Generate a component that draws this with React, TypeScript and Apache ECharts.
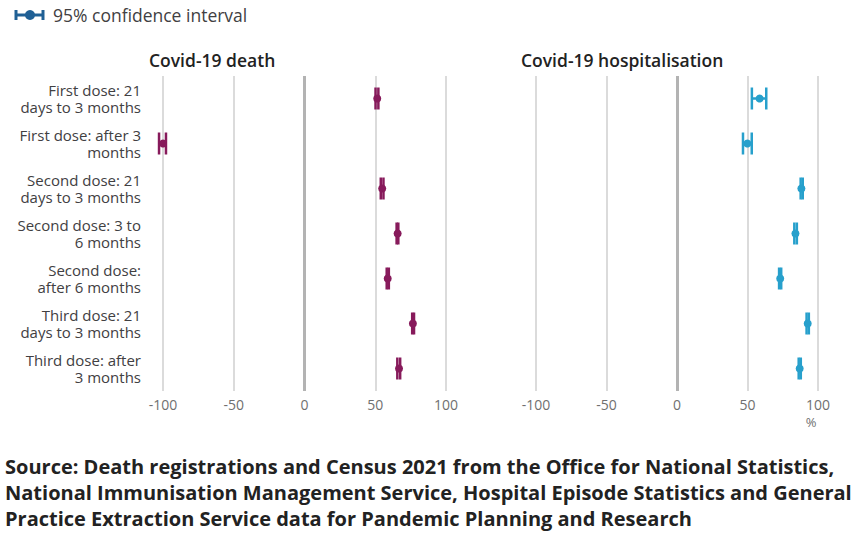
import React, { useEffect, useRef } from "react";
import * as echarts from "echarts";

const categories = [
  "First dose: 21\ndays to 3 months",
  "First dose: after 3\nmonths",
  "Second dose: 21\ndays to 3 months",
  "Second dose: 3 to\n6 months",
  "Second dose:\nafter 6 months",
  "Third dose: 21\ndays to 3 months",
  "Third dose: after\n3 months",
];

// Covid-19 death: estimate, lower, upper
const deathEst = [51.4, -100, 54.9, 65.8, 58.8, 76.6, 66.8];
const deathLow = [50.2, -102.8, 53.9, 65.1, 58.1, 76.1, 65.6];
const deathHigh = [52.2, -97.9, 55.8, 66.3, 59.6, 77.4, 67.6];

// Covid-19 hospitalisation: estimate, lower, upper
const hospEst = [58.6, 49.9, 88.2, 84.0, 73.2, 92.7, 87.0];
const hospLow = [53.1, 46.8, 87.7, 83.2, 72.4, 91.9, 86.3];
const hospHigh = [63.3, 53.0, 89.2, 85.0, 73.9, 93.5, 87.8];

const xTicks = [-100, -50, 0, 50, 100];

const panelTitles = ["Covid-19 death", "Covid-19 hospitalisation"];
const legendLabel = "95% confidence interval";
const unitLabel = "%";
const sourceText =
  "Source: Death registrations and Census 2021 from the Office for National Statistics,\nNational Immunisation Management Service, Hospital Episode Statistics and General\nPractice Extraction Service data for Pandemic Planning and Research";

const FONT = "'Open Sans', 'Noto Sans', sans-serif";
const PURPLE = "#871a5b";
const BLUE = "#27a0cc";
const DARKBLUE = "#206095";

function buildData(est: number[], low: number[], high: number[]) {
  return est.map((v, i) => [v, i, low[i], high[i]]);
}

function makeRender(color: string) {
  return (params: any, api: any) => {
    const cat = api.value(1);
    const pe = api.coord([api.value(0), cat]);
    const pl = api.coord([api.value(2), cat]);
    const ph = api.coord([api.value(3), cat]);
    const y = pe[1];
    const h = 11;
    const ls = { stroke: color, lineWidth: 2.5 };
    return {
      type: "group",
      children: [
        { type: "line", shape: { x1: pl[0], y1: y, x2: ph[0], y2: y }, style: ls },
        { type: "line", shape: { x1: pl[0], y1: y - h, x2: pl[0], y2: y + h }, style: ls },
        { type: "line", shape: { x1: ph[0], y1: y - h, x2: ph[0], y2: y + h }, style: ls },
        { type: "circle", shape: { cx: pe[0], cy: y, r: 4 }, style: { fill: color } },
      ],
    };
  };
}

export default function App() {
  const ref = useRef<HTMLDivElement>(null);
  useEffect(() => {
    if (!ref.current) return;
    const chart = echarts.init(ref.current, null, { renderer: "svg" });
    const gridTop = 76;
    const gridBottom = 148;
    const xAxisBase = (gridIndex: number) => ({
      type: "value",
      gridIndex,
      min: xTicks[0],
      max: xTicks[xTicks.length - 1],
      interval: 50,
      axisLine: { show: false },
      axisTick: { show: false },
      axisLabel: { color: "#707070", fontSize: 14, fontFamily: FONT, margin: 6 },
      splitLine: { show: true, lineStyle: { color: "#cfcfcf", width: 1.5 } },
    });
    const yAxisBase = (gridIndex: number, showLabels: boolean) => ({
      type: "category",
      gridIndex,
      data: categories,
      inverse: true,
      axisLine: { show: false },
      axisTick: { show: false },
      splitLine: { show: false },
      axisLabel: {
        show: showLabels,
        color: "#414042",
        fontSize: 15,
        lineHeight: 17,
        fontFamily: FONT,
        margin: 22,
        align: "right",
      },
    });
    const zeroLine = {
      silent: true,
      symbol: ["none", "none"],
      label: { show: false },
      lineStyle: { color: "#b3b3b3", width: 3, type: "solid" },
      data: [{ xAxis: 0 }],
    };
    chart.setOption({
      animation: false,
      grid: [
        { left: 163, width: 283, top: gridTop, bottom: gridBottom },
        { left: 536, width: 282, top: gridTop, bottom: gridBottom },
      ],
      xAxis: [xAxisBase(0), xAxisBase(1)],
      yAxis: [yAxisBase(0, true), yAxisBase(1, false)],
      series: [
        {
          type: "custom",
          name: panelTitles[0],
          xAxisIndex: 0,
          yAxisIndex: 0,
          clip: false,
          renderItem: makeRender(PURPLE),
          encode: { x: [0, 2, 3], y: 1 },
          data: buildData(deathEst, deathLow, deathHigh),
          markLine: zeroLine,
          z: 3,
        },
        {
          type: "custom",
          name: panelTitles[1],
          xAxisIndex: 1,
          yAxisIndex: 1,
          clip: false,
          renderItem: makeRender(BLUE),
          encode: { x: [0, 2, 3], y: 1 },
          data: buildData(hospEst, hospLow, hospHigh),
          markLine: zeroLine,
          z: 3,
        },
      ],
      graphic: [
        // legend icon
        { type: "line", shape: { x1: 16, y1: 15, x2: 43, y2: 15 }, style: { stroke: DARKBLUE, lineWidth: 3 } },
        { type: "line", shape: { x1: 16, y1: 10, x2: 16, y2: 20 }, style: { stroke: DARKBLUE, lineWidth: 3 } },
        { type: "line", shape: { x1: 43, y1: 10, x2: 43, y2: 20 }, style: { stroke: DARKBLUE, lineWidth: 3 } },
        { type: "circle", shape: { cx: 30, cy: 15, r: 5 }, style: { fill: DARKBLUE } },
        {
          type: "text",
          x: 53,
          y: 15,
          style: { text: legendLabel, fill: "#414042", fontSize: 17.5, fontFamily: FONT, verticalAlign: "middle" },
        },
        {
          type: "text",
          x: 149,
          y: 60,
          style: { text: panelTitles[0], fill: "#222222", fontSize: 17.5, fontWeight: 600, fontFamily: FONT, verticalAlign: "middle" },
        },
        {
          type: "text",
          x: 521,
          y: 60,
          style: { text: panelTitles[1], fill: "#222222", fontSize: 17.5, fontWeight: 600, fontFamily: FONT, verticalAlign: "middle" },
        },
        {
          type: "text",
          x: 811,
          y: 422,
          style: { text: unitLabel, fill: "#707070", fontSize: 13, fontFamily: FONT, align: "center", verticalAlign: "middle" },
        },
        {
          type: "text",
          x: 5,
          y: 453,
          style: {
            text: sourceText,
            fill: "#222222",
            fontSize: 20,
            lineHeight: 26,
            fontWeight: "bold",
            fontFamily: FONT,
            verticalAlign: "top",
          },
        },
      ],
    });
    return () => chart.dispose();
  }, []);
  return <div ref={ref} style={{ width: 860, height: 539, position: "absolute", left: 0, top: 0 }} />;
}
